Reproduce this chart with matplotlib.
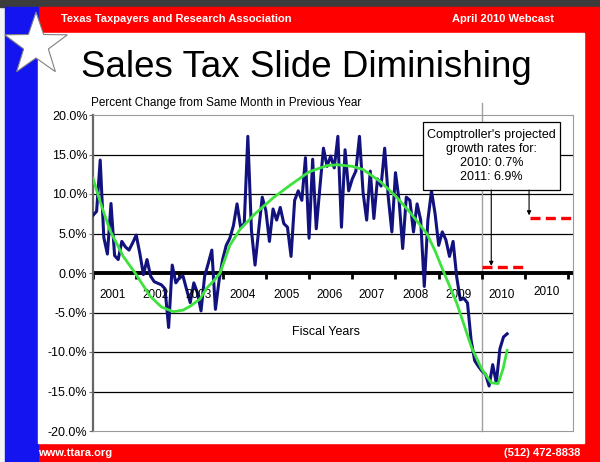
"""
Sales tax growth slide (TTARA April 2010 webcast) redrawn with matplotlib.
"""

import matplotlib
matplotlib.use("Agg")
import matplotlib.pyplot as plt
import numpy as np
from matplotlib.patches import Polygon, Rectangle

plt.rcParams["font.family"] = ["Liberation Sans", "DejaVu Sans"]

# monthly % change vs same month a year earlier, month 0 = Sep 2000
monthly_change = [
    7.3, 7.8, 14.3, 4.5, 2.4, 8.8, 2.2, 1.7, 4.0, 3.3, 2.9, 3.8,
    4.8, 2.5, -0.2, 1.7, -0.4, -1.1, -1.3, -1.5, -2.0, -6.9, 1.0, -1.25,
    -0.6, -0.4, -2.1, -3.75, -1.25, -2.5, -4.8, -0.4, 1.2, 2.9, -4.6, -1.0,
    1.7, 3.5, 4.4, 6.0, 8.75, 5.8, 6.25, 17.3, 5.4, 1.0, 5.4, 9.6,
    7.9, 4.0, 8.1, 6.7, 8.3, 6.25, 5.8, 2.1, 9.2, 10.4, 9.2, 14.6,
    4.4, 14.4, 5.6, 10.8, 15.8, 13.5, 14.8, 13.3, 17.3, 5.8, 15.6, 10.4,
    11.9, 12.9, 17.3, 10.2, 6.7, 12.9, 6.9, 11.9, 11.0, 15.8, 9.6, 5.2,
    12.7, 9.2, 3.1, 9.6, 9.2, 5.2, 8.75, 6.7, -1.7, 6.7, 10.4, 7.5,
    3.5, 5.2, 4.2, 2.1, 4.0, -0.5, -3.4, -3.2, -3.8, -8.5, -11.1, -11.8,
    -12.4, -12.8, -14.3, -11.6, -13.9, -9.6, -8.1, -7.7,
]

# trend line (month, %)
trend_months = [0, 2, 4.7, 8.4, 11.7, 15.8, 19, 22.3, 25, 27, 29.7, 31.6, 33.5,
                35.3, 38, 40.8, 45, 50, 55, 60, 65, 68, 72, 75, 80, 84.3, 88,
                92.7, 95, 97.5, 101, 103, 105.1, 107.9, 110.6, 112.5, 113.9, 115]
trend_values = [12.0, 9.0, 5.4, 2.1, 0.0, -2.9, -4.3, -4.9, -4.7, -4.2, -3.3, -1.9, -1.0,
                0.0, 3.5, 5.5, 7.5, 9.5, 11.2, 12.8, 13.6, 13.7, 13.5, 13.1, 11.5, 9.6, 7.7,
                5.0, 2.8, 0.0, -3.8, -6.5, -9.4, -12.1, -13.9, -14.0, -12.1, -9.8]

# comptroller projections: (start month, end month, %)
proj_2010 = (108, 120, 0.7)
proj_2011 = (121.4, 133.3, 6.9)

year_labels = ["2001", "2002", "2003", "2004", "2005", "2006", "2007",
               "2008", "2009", "2010", "2010"]
year_label_months = [5.4, 17.4, 29.4, 41.6, 53.8, 65.8, 77.5, 89.6, 101.6, 113.4, 126]

y_ticks = [-20, -15, -10, -5, 0, 5, 10, 15, 20]

fig = plt.figure(figsize=(6, 4.62), dpi=100)

# slide frame, in pixel coordinates
bg = fig.add_axes([0, 0, 1, 1], zorder=0)
bg.set_xlim(0, 600)
bg.set_ylim(462, 0)
bg.axis("off")
bg.add_patch(Rectangle((0, 0), 600, 462, color="#f4f4f4"))
bg.add_patch(Rectangle((0, 0), 600, 7, color="#3c3c3c"))
bg.add_patch(Rectangle((38, 7), 562, 455, color="#ff0000"))
bg.add_patch(Rectangle((5, 7), 33, 455, color="#1414f0"))
bg.add_patch(Rectangle((38, 33), 546, 410, color="white"))

ang = np.pi / 2 + np.arange(10) * np.pi / 5
rad = np.where(np.arange(10) % 2 == 0, 33, 13)
star = np.column_stack([36 + rad * np.cos(ang), 45 - rad * np.sin(ang)])
bg.add_patch(Polygon(star, closed=True, facecolor="white", edgecolor="#808080", lw=0.8))

bg.text(61, 19, "Texas Taxpayers and Research Association", color="white",
        fontsize=8, fontweight="bold", va="center", ha="left")
bg.text(554, 19, "April 2010 Webcast", color="white",
        fontsize=8, fontweight="bold", va="center", ha="right")
bg.text(306, 77, "Sales Tax Slide Diminishing", fontsize=26.5,
        ha="center", va="baseline")
bg.text(91, 103, "Percent Change from Same Month in Previous Year",
        fontsize=8.5, ha="left", va="center")
bg.text(38, 453, "www.ttara.org", color="white", fontsize=8,
        fontweight="bold", va="center", ha="left")
bg.text(580, 453, "(512) 472-8838", color="white", fontsize=8,
        fontweight="bold", va="center", ha="right")

# chart
ax = fig.add_axes([93 / 600, 31 / 462, 480 / 600, 316 / 462], zorder=1)
ax.set_facecolor("white")
months = np.arange(len(monthly_change))

ax.set_xlim(0, 133.3)
ax.set_ylim(-20, 20)
ax.set_yticks(y_ticks)
ax.set_yticklabels([f"{t:.1f}%" for t in y_ticks], fontsize=9)
ax.tick_params(axis="y", direction="out", length=3, width=0.8, color="#707070", pad=1)
ax.set_xticks([])

for t in y_ticks[1:-1]:
    if t != 0:
        ax.axhline(t, color="black", lw=0.9, zorder=1)
ax.axhline(0, color="black", lw=2.8, zorder=2)
ax.vlines(np.arange(0, 133, 12), -0.8, 0.2, color="black", lw=2, zorder=2)

for side in ["top", "right", "bottom"]:
    ax.spines[side].set_color("#9a9a9a")
    ax.spines[side].set_linewidth(0.8)
ax.spines["left"].set_color("#666666")
ax.spines["left"].set_linewidth(1.6)

ax.plot([108, 108], [-20, 21.5], color="#a0a0a0", lw=1, clip_on=False, zorder=1)

ax.plot(months, monthly_change, color="#12127e", lw=2.2, zorder=3,
        solid_joinstyle="round")
ax.plot(trend_months, trend_values, color="#3ee23e", lw=2.0, zorder=4,
        solid_joinstyle="round")

for x0, x1, val in (proj_2010, proj_2011):
    ax.plot([x0, x1], [val, val], color="#ff0000", lw=2.4,
            dashes=(3, 1.6), zorder=4)

for lab, m in zip(year_labels, year_label_months):
    ax.text(m, -2.4 if m > 120 else -2.8, lab, fontsize=8.5,
            ha="center", va="center")
ax.text(64.7, -7.5, "Fiscal Years", fontsize=9, ha="center", va="center")

# projection callout
ax.add_patch(Rectangle((91.6, 10.5), 38.1, 8.6, facecolor="white",
                       edgecolor="black", lw=0.9, zorder=5))
ax.text(110.6, 14.8, "Comptroller's projected\ngrowth rates for:\n2010: 0.7%\n2011: 6.9%",
        fontsize=9, ha="center", va="center", linespacing=1.2, zorder=6)
ax.annotate("", xy=(110.6, 0.9), xytext=(110.6, 10.5),
            arrowprops=dict(arrowstyle="-|>", color="black", lw=0.8,
                            mutation_scale=6, shrinkA=0, shrinkB=0), zorder=5)
ax.annotate("", xy=(121.1, 7.3), xytext=(121.1, 10.5),
            arrowprops=dict(arrowstyle="-|>", color="black", lw=0.8,
                            mutation_scale=6, shrinkA=0, shrinkB=0), zorder=5)

fig.savefig("out.png", dpi=100)
plt.close(fig)
